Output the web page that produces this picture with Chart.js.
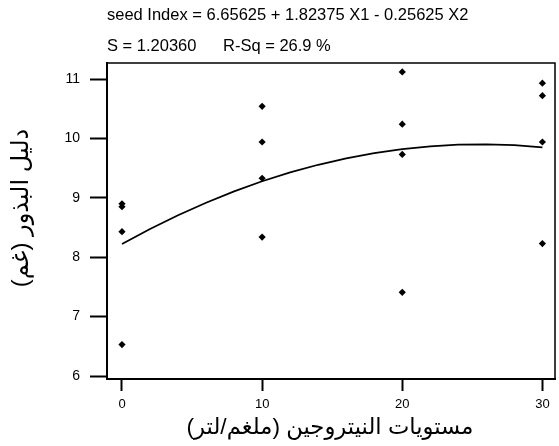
<!DOCTYPE html>
<html>
<head>
<meta charset="utf-8">
<script src="https://cdn.jsdelivr.net/npm/chart.js@4"></script>
<style>
  html, body { margin: 0; padding: 0; background: #fff; }
  #wrap { width: 559px; height: 446px; position: relative; }
</style>
</head>
<body>
<div id="wrap"><canvas id="c"></canvas></div>
<script>
// Nitrogen levels (mg/L) and seed index observations at each level
const nitrogenLevels = [0, 10, 20, 30];
const seedIndexObs = [
  [8.90, 8.85, 8.43, 6.53],
  [10.54, 9.94, 9.33, 8.34],
  [11.12, 10.24, 9.73, 7.41],
  [10.93, 10.72, 9.94, 8.23]
];
// Fitted quadratic curve values
const fitX = [0, 2, 4, 6, 8, 10, 12, 14, 16, 18, 20, 22, 24, 26, 28, 30];
const fitY = [8.224, 8.476, 8.707, 8.918, 9.109, 9.279, 9.428, 9.557, 9.666, 9.754, 9.821, 9.868, 9.895, 9.901, 9.886, 9.851];
const xTicks = [0, 10, 20, 30];
const yTicks = [6, 7, 8, 9, 10, 11];

const titleLine = 'seed Index = 6.65625 + 1.82375 X1 - 0.25625 X2';
const statS = 'S = 1.20360';
const statR = 'R-Sq = 26.9 %';
const xTitle = 'مستويات النيتروجين (ملغم/لتر)';
const yTitle = 'دليل البذور (غم)';

const FONT = '"Liberation Sans", Arial, "DejaVu Sans", sans-serif';

const points = [];
nitrogenLevels.forEach((x, i) => seedIndexObs[i].forEach(y => points.push({ x, y })));
const curve = fitX.map((x, i) => ({ x, y: fitY[i] }));

const framePlugin = {
  id: 'frameAndText',
  afterDraw(chart) {
    const { ctx, chartArea: a } = chart;
    ctx.save();
    // top and right edges of the plot box
    ctx.strokeStyle = '#000';
    ctx.lineWidth = 1.5;
    ctx.beginPath();
    ctx.moveTo(a.left, a.top);
    ctx.lineTo(a.right, a.top);
    ctx.lineTo(a.right, a.bottom);
    ctx.stroke();

    ctx.fillStyle = '#000';
    ctx.textBaseline = 'middle';
    ctx.textAlign = 'left';
    ctx.font = '16.5px ' + FONT;
    ctx.fillText(titleLine, 107, 15);
    ctx.fillText(statS, 107, 46);
    ctx.fillText(statR, 223, 46);

    ctx.direction = 'rtl';
    ctx.textAlign = 'center';
    ctx.font = '22.7px ' + FONT;
    ctx.fillText(xTitle, 330, 428);

    ctx.translate(21, 208);
    ctx.rotate(-Math.PI / 2);
    ctx.font = '24px ' + FONT;
    ctx.fillText(yTitle, 0, 0);
    ctx.restore();
  }
};

new Chart(document.getElementById('c'), {
  type: 'scatter',
  data: {
    datasets: [
      {
        label: 'fit',
        type: 'line',
        data: curve,
        borderColor: '#000',
        borderWidth: 1.8,
        pointRadius: 0,
        tension: 0,
        fill: false
      },
      {
        label: 'observed',
        data: points,
        pointStyle: 'rectRot',
        pointRadius: 3.6,
        backgroundColor: '#000',
        borderColor: '#000',
        borderWidth: 0
      }
    ]
  },
  options: {
    animation: false,
    responsive: true,
    maintainAspectRatio: false,
    devicePixelRatio: 1,
    layout: { padding: { top: 63, right: 2, left: 0, bottom: 0 } },
    plugins: { legend: { display: false }, tooltip: { enabled: false }, title: { display: false } },
    scales: {
      x: {
        type: 'linear',
        min: -1.07,
        max: 30.9,
        afterBuildTicks(s) { s.ticks = xTicks.map(v => ({ value: v })); },
        afterFit(s) { s.height = 67; },
        grid: { display: true, drawOnChartArea: false, drawTicks: true, tickLength: 12, tickColor: '#000', tickWidth: 2 },
        border: { display: true, color: '#000', width: 2 },
        ticks: { color: '#000', font: { family: FONT, size: 13 }, padding: 6, maxRotation: 0 }
      },
      y: {
        type: 'linear',
        min: 5.95,
        max: 11.27,
        afterBuildTicks(s) { s.ticks = yTicks.map(v => ({ value: v })); },
        afterFit(s) { s.width = 107; },
        grid: { display: true, drawOnChartArea: false, drawTicks: true, tickLength: 17, tickColor: '#000', tickWidth: 2 },
        border: { display: true, color: '#000', width: 2 },
        ticks: { color: '#000', font: { family: FONT, size: 14 }, padding: 10 }
      }
    }
  },
  plugins: [framePlugin]
});
</script>
</body>
</html>
